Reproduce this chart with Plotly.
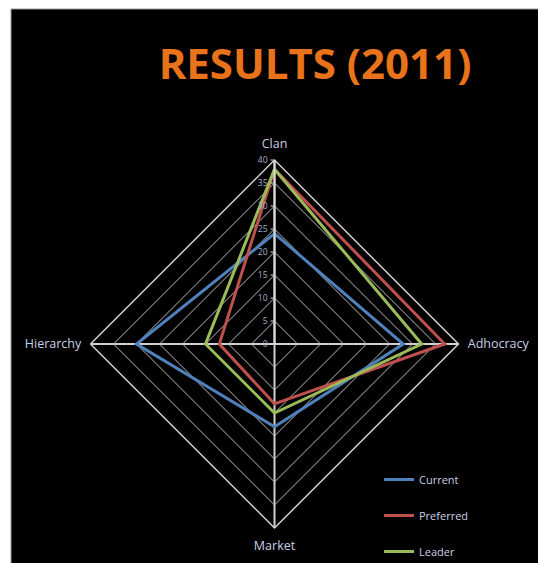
import plotly.graph_objects as go

# Competing values dimensions and scores (percent)
dimensions = ["Clan", "Adhocracy", "Market", "Hierarchy"]
current = [24, 28, 18, 30]
preferred = [38, 37, 13, 12]
leader = [38, 32, 15, 15]

series_names = ["Current", "Preferred", "Leader"]
series_colors = ["#4F81BD", "#C0504D", "#9BBB59"]
series_values = [current, preferred, leader]

radial_ticks = list(range(0, 45, 5))

W, H = 538, 563
cx, cy, R = 274.5, 344, 184

fig = go.Figure()
for name, color, vals in zip(series_names, series_colors, series_values):
    fig.add_trace(go.Scatterpolar(
        r=vals + vals[:1],
        theta=dimensions + dimensions[:1],
        mode="lines",
        name=name,
        legendgroup=name,
        line=dict(color=color, width=3),
    ))

fig.update_layout(
    width=W, height=H,
    margin=dict(l=0, r=0, t=0, b=0, autoexpand=False),
    paper_bgcolor="white",
    shapes=[dict(type="rect", xref="paper", yref="paper",
                 x0=11 / W, x1=1.01, y0=-0.01, y1=1 - 9 / H,
                 fillcolor="black", line=dict(color="#999999", width=1),
                 layer="below")],
    title=dict(text="<b>RESULTS (2011)</b>", x=315 / W, xanchor="center",
               y=1 - 64 / H, yanchor="middle",
               font=dict(family="Open Sans", size=42, color="#E8731A")),
    polar=dict(
        domain=dict(x=[(cx - R) / W, (cx + R) / W],
                    y=[(H - cy - R) / H, (H - cy + R) / H]),
        bgcolor="rgba(0,0,0,0)",
        gridshape="linear",
        angularaxis=dict(rotation=90, direction="clockwise",
                         linecolor="#d0d0d0", linewidth=1.5,
                         gridcolor="#d0d0d0", gridwidth=1.5,
                         showline=True,
                         ticks="outside", ticklen=6, tickcolor="rgba(0,0,0,0)",
                         tickfont=dict(family="Open Sans", size=12.5, color="#c8d0e4")),
        radialaxis=dict(range=[0, 40], tickvals=radial_ticks, angle=90,
                        tickangle=90, side="counterclockwise",
                        showline=True, linecolor="#d8d8d8", linewidth=2,
                        gridcolor="#bdbdbd", gridwidth=1.2,
                        ticks="outside", ticklen=3, tickcolor="#d8d8d8",
                        tickfont=dict(family="Open Sans", size=8.5, color="#a8b0c8")),
    ),
    legend=dict(x=379 / W, y=1 - 465 / H, xanchor="left", yanchor="top",
                bgcolor="rgba(0,0,0,0)", tracegroupgap=17, itemwidth=30,
                font=dict(family="Open Sans", size=11, color="#c8d0e4")),
)

fig.write_html("out.html")
